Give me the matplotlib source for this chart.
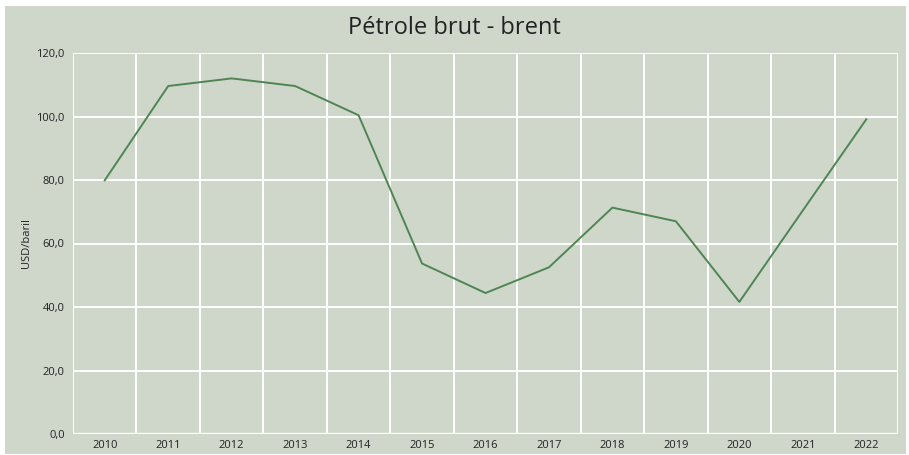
import matplotlib.pyplot as plt
from matplotlib.patches import Rectangle
import numpy as np

years = ["2010", "2011", "2012", "2013", "2014", "2015", "2016",
         "2017", "2018", "2019", "2020", "2021", "2022"]
brent = [79.9, 109.6, 112.0, 109.6, 100.4, 53.7, 44.4,
         52.5, 71.3, 67.0, 41.6, 70.4, 99.1]
yticks = [0, 20, 40, 60, 80, 100, 120]

bg = "#cfd7cb"
txt = "#222222"
plt.rcParams["font.family"] = ["Open Sans", "DejaVu Sans"]

fig = plt.figure(figsize=(9.09, 4.55), dpi=100, facecolor="white")
fig.patches.append(Rectangle((5 / 909, 1 / 455), 901 / 909, 448 / 455,
                             transform=fig.transFigure, facecolor=bg,
                             edgecolor="none", zorder=-10))

ax = fig.add_axes([73 / 909, 21 / 455, 825 / 909, 381 / 455])
ax.set_zorder(2)
ax.set_facecolor(bg)

x = np.arange(len(years))
ax.plot(x, brent, color="#4f8553", lw=1.4, zorder=3)

ax.set_xlim(-0.5, len(years) - 0.5)
ax.set_ylim(0, 120)

# white grid on category boundaries and y ticks
for b in np.arange(-0.5, len(years), 1.0):
    ax.axvline(b, color="white", lw=1.4, zorder=1)
for v in yticks:
    ax.axhline(v, color="white", lw=1.4, zorder=1)
ax.axhline(0, color="white", lw=2.4, zorder=2)

for s in ax.spines.values():
    s.set_visible(False)

ax.set_xticks(x)
ax.set_xticklabels(years)
ax.set_yticks(yticks)
ax.set_yticklabels([f"{v:.1f}".replace(".", ",") for v in yticks])
ax.tick_params(length=0, labelsize=8, colors=txt, pad=4)
ax.tick_params(axis="y", pad=6)

ax.set_ylabel("USD/baril", fontsize=8, color=txt, labelpad=3)
fig.text(0.5, 1 - 28 / 455, "Pétrole brut - brent", ha="center", va="center",
         fontsize=17, color=txt, zorder=5)

fig.savefig("out.png", dpi=100, facecolor="white")
